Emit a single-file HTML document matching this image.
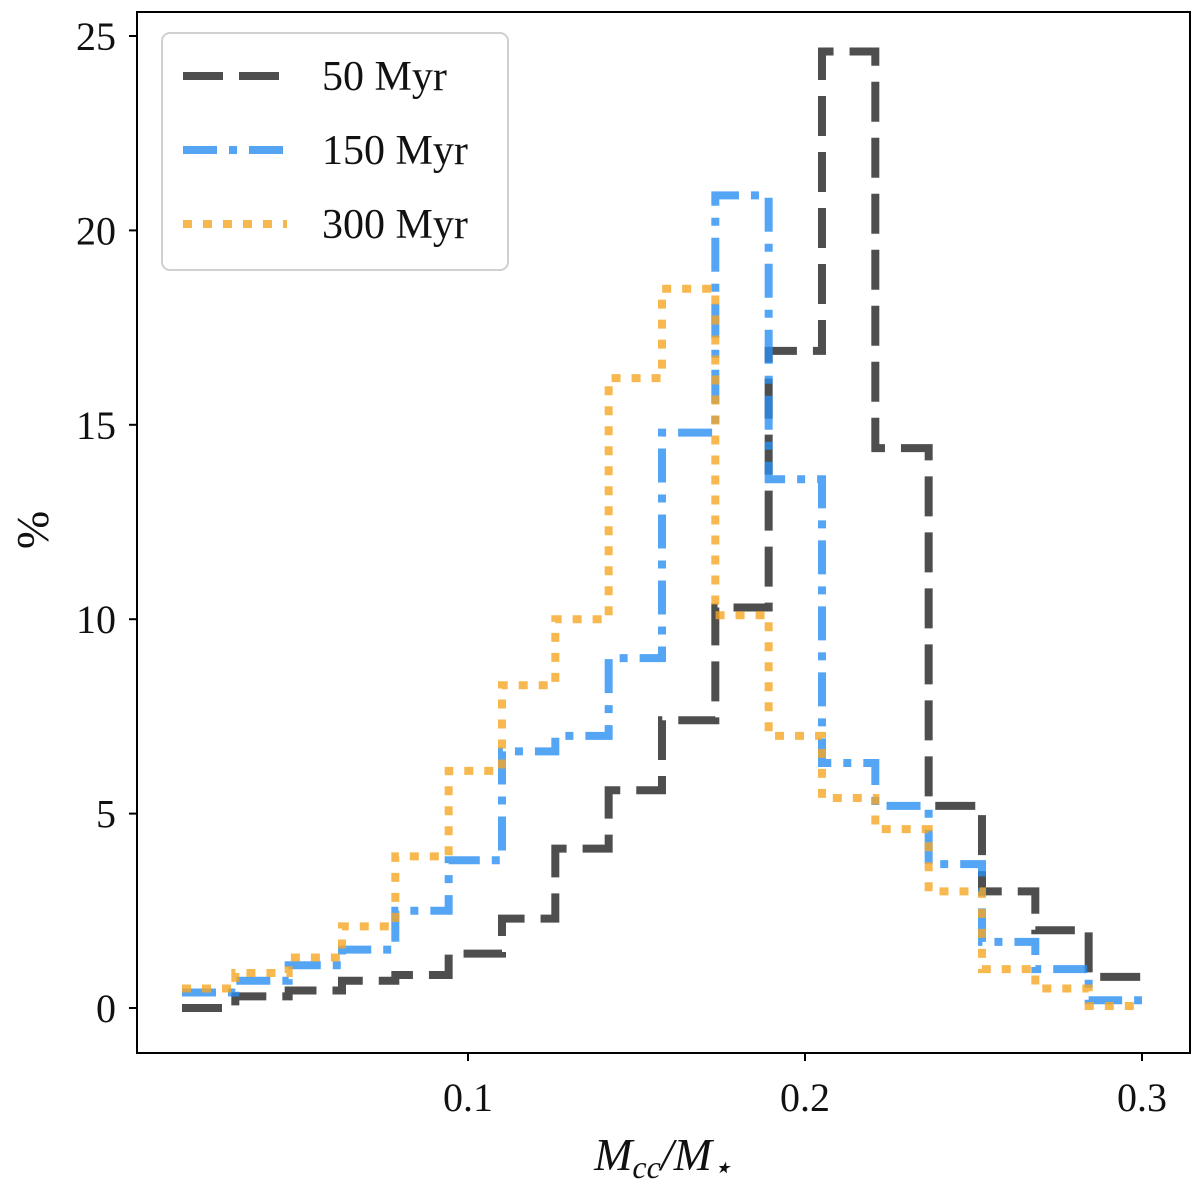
<!DOCTYPE html>
<html><head><meta charset="utf-8"><style>
body{margin:0;background:#fff;}
svg text{font-family:"Liberation Serif",serif;fill:#111;}
</style></head><body>
<svg id="chart" width="1200" height="1196" xmlns="http://www.w3.org/2000/svg"></svg>
<script>
const binStart = 0.01513;
const binWidth = 0.015826;
const xTicks = [0.1, 0.2, 0.3];
const xTickLabels = ["0.1", "0.2", "0.3"];
const yTicks = [0, 5, 10, 15, 20, 25];
const yTickLabels = ["0", "5", "10", "15", "20", "25"];
const series50 = [0, 0.3, 0.45, 0.7, 0.85, 1.4, 2.3, 4.1, 5.6, 7.4, 10.3, 16.9, 24.6, 14.4, 5.2, 3.0, 2.0, 0.8];
const series150 = [0.4, 0.7, 1.1, 1.5, 2.5, 3.8, 6.6, 7.0, 9.0, 14.8, 20.9, 13.6, 6.3, 5.2, 3.7, 1.7, 1.0, 0.2];
const series300 = [0.5, 0.9, 1.3, 2.1, 3.9, 6.1, 8.3, 10.0, 16.2, 18.5, 10.1, 7.0, 5.4, 4.6, 3.0, 1.0, 0.5, 0.05];
const seriesNames = ["50 Myr", "150 Myr", "300 Myr"];

const NS = "http://www.w3.org/2000/svg";
const svg = document.getElementById("chart");
const L = 137, R = 1190, T = 12, B = 1053;
const xs = v => 468 + (v - 0.1) * 3370;
const ys = v => 1008 - v * 38.88;
function mk(tag, attrs, parent) {
  const e = document.createElementNS(NS, tag);
  for (const k in attrs) e.setAttribute(k, attrs[k]);
  (parent || svg).appendChild(e);
  return e;
}
function txt(s, x, y, anchor, size, parent) {
  const t = mk("text", {x: x, y: y, "text-anchor": anchor, "font-size": size}, parent);
  t.textContent = s;
  return t;
}
function stepPath(vals) {
  let d = "";
  vals.forEach((v, i) => {
    const x0 = xs(binStart + i * binWidth), x1 = xs(binStart + (i + 1) * binWidth);
    d += (i === 0 ? "M" : "L") + x0 + "," + ys(v) + " L" + x1 + "," + ys(v) + " ";
  });
  return d;
}
const styles = [
  {data: series50, color: "#222", dash: "40,16", cap: "butt"},
  {data: series150, color: "#2b8ef2", dash: "34,12,8,12", cap: "butt"},
  {data: series300, color: "#f5a623", dash: "9,11", cap: "butt"}
];
const names = ["series-50-myr", "series-150-myr", "series-300-myr"];
styles.forEach((s, i) => {
  const p = mk("path", {d: stepPath(s.data), fill: "none", stroke: s.color, "stroke-width": 8, "stroke-dasharray": s.dash, "stroke-linecap": s.cap, opacity: 0.8});
  
  
});
const fr = mk("rect", {x: L, y: T, width: R - L, height: B - T, fill: "none", stroke: "#000", "stroke-width": 2});


xTicks.forEach((v, i) => {
  mk("line", {x1: xs(v), x2: xs(v), y1: B, y2: B + 8, stroke: "#000", "stroke-width": 2});
  const t = txt(xTickLabels[i], xs(v), 1111, "middle", 40);
  
  
});
yTicks.forEach((v, i) => {
  mk("line", {x1: L - 8, x2: L, y1: ys(v), y2: ys(v), stroke: "#000", "stroke-width": 2});
  const t = txt(yTickLabels[i], 116, ys(v) + 14, "end", 40);
  
  
});
const xt = mk("text", {x: 663, y: 1170, "text-anchor": "middle", "font-size": 46, "font-style": "italic"});
xt.innerHTML = 'M<tspan font-size="32" dy="8">cc</tspan><tspan dy="-8">/M</tspan><tspan font-size="32" dy="8">⋆</tspan>';


const yt = txt("%", 0, 0, "middle", 46);
yt.setAttribute("transform", "translate(48,530) rotate(-90)");


const lg = mk("g", {});


mk("rect", {x: 162, y: 33, width: 346, height: 237, rx: 8, fill: "#fff", stroke: "#ccc", "stroke-width": 2, opacity: 0.9}, lg);
styles.forEach((s, i) => {
  const y = 76 + i * 74;
  const ln = mk("line", {x1: 183, x2: 287, y1: y, y2: y, stroke: s.color, "stroke-width": 8, "stroke-dasharray": s.dash, opacity: 0.8}, lg);
  
  
  const t = txt(seriesNames[i], 322, y + 14, "start", 42, lg);
  
  
});
</script>
</body></html>
